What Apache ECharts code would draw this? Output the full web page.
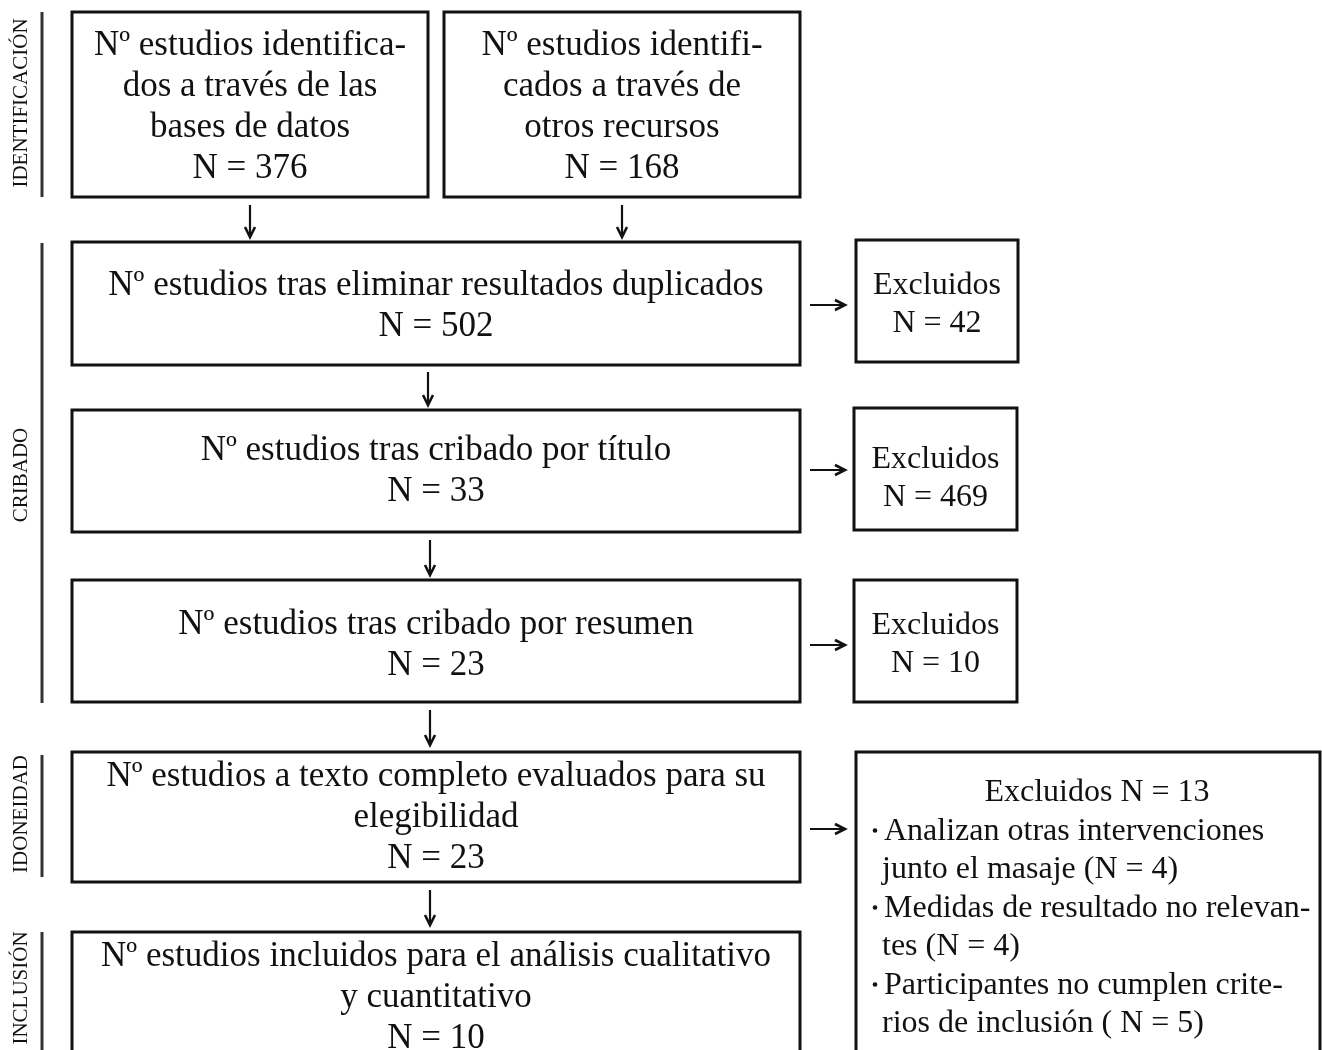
<!DOCTYPE html>
<html>
<head>
<meta charset="utf-8">
<script src="https://cdn.jsdelivr.net/npm/echarts@6/dist/echarts.min.js"></script>
<style>html,body{margin:0;padding:0;background:#fff}#c{width:1322px;height:1050px}</style>
</head>
<body>
<div id="c"></div>
<script>
// ---- content ----
const stageLabels = ['IDENTIFICACIÓN', 'CRIBADO', 'IDONEIDAD', 'INCLUSIÓN'];
const mainTexts = [
  ['Nº estudios identifica-', 'dos a través de las', 'bases de datos'],
  ['Nº estudios identifi-', 'cados a través de', 'otros recursos'],
  ['Nº estudios tras eliminar resultados duplicados'],
  ['Nº estudios tras cribado por título'],
  ['Nº estudios tras cribado por resumen'],
  ['Nº estudios a texto completo evaluados para su', 'elegibilidad'],
  ['Nº estudios incluidos para el análisis cualitativo', 'y cuantitativo']
];
const mainCounts = [376, 168, 502, 33, 23, 23, 10];
const excludedCounts = [42, 469, 10, 13];
const reasonTexts = [
  ['Analizan otras intervenciones', 'junto el masaje (N = 4)'],
  ['Medidas de resultado no relevan-', 'tes (N = 4)'],
  ['Participantes no cumplen crite-', 'rios de inclusión ( N = 5)']
];

// ---- layout (positions in canvas units) ----
const mainBoxes = [[72,12,428,197],[444,12,800,197],[72,242,800,365],[72,410,800,532],[72,580,800,702],[72,752,800,882],[72,932,800,1070]];
const exclBoxes = [[856,240,1018,362],[854,408,1017,530],[854,580,1017,702],[856,752,1320,1070]];
const stageSpans = [[12,197],[243,703],[755,877],[932,1070]];
const stageLabelY = [103,475,814,988];
const mainTextCenters = [107.5,107.5,306.5,471.5,645,818,997.5];
const exclTextCenters = [305,479,645];
const downArrows = [[250,205,237],[622,205,237],[428,372,405],[430,540,575],[430,710,745],[430,890,925]];
const rightArrows = [[810,845,305],[810,845,470],[810,845,645],[810,845,829]];

const FONT = "'Liberation Serif','Times New Roman',serif";
const INK = '#111';
const MAIN_SIZE = 35, EXCL_SIZE = 32, STAGE_SIZE = 21;

const chart = echarts.init(document.getElementById('c'), null, {renderer:'canvas'});

function boxRender(params, api) {
  const i = api.value(0);
  const kind = api.value(1);
  let b, lines, lh, size, c;
  if (kind === 0) {
    b = mainBoxes[i];
    lines = mainTexts[i].concat(['N = ' + mainCounts[i]]);
    lh = 41; size = MAIN_SIZE; c = mainTextCenters[i];
  } else {
    b = exclBoxes[i];
    lines = ['Excluidos', 'N = ' + excludedCounts[i]];
    lh = 38; size = EXCL_SIZE; c = exclTextCenters[i];
  }
  const p0 = api.coord([b[0], b[1]]);
  const p1 = api.coord([b[2], b[3]]);
  const children = [{
    type: 'rect',
    shape: {x: p0[0], y: p0[1], width: p1[0]-p0[0], height: p1[1]-p0[1]},
    style: {fill: '#fff', stroke: INK, lineWidth: 3}
  }];
  if (kind === 1 && i === 3) {
    const base = 793;
    children.push({type:'text', style:{text:'Excluidos N = ' + excludedCounts[3], x: api.coord([1097,0])[0], y: api.coord([0, base])[1], align:'center', verticalAlign:'middle', font: size + 'px ' + FONT, fill: INK}});
    let row = 1;
    reasonTexts.forEach(function (r) {
      r.forEach(function (t, k) {
        const y = api.coord([0, base + row * 38.5])[1];
        if (k === 0) {
          children.push({type:'circle', shape:{cx: api.coord([875,0])[0], cy: y - 1, r: 2.3}, style:{fill: INK}});
        }
        children.push({type:'text', style:{text: t, x: api.coord([k === 0 ? 884 : 882, 0])[0], y: y, align:'left', verticalAlign:'middle', font: size + 'px ' + FONT, fill: INK}});
        row++;
      });
    });
  } else {
    const cx = api.coord([(b[0] + b[2]) / 2, 0])[0];
    const cyp = api.coord([0, c])[1];
    children.push({type:'text', style:{text: lines.join('\n'), x: cx, y: cyp, align:'center', verticalAlign:'middle', lineHeight: lh, font: size + 'px ' + FONT, fill: INK}});
  }
  return {type:'group', children: children};
}

function arrowRender(params, api) {
  const dir = api.value(0);
  const i = api.value(1);
  const children = [];
  if (dir === 0) {
    const a = downArrows[i];
    const s = api.coord([a[0], a[1]]), e = api.coord([a[0], a[2]]);
    children.push({type:'line', shape:{x1:s[0], y1:s[1], x2:e[0], y2:e[1]-2}, style:{stroke: INK, lineWidth: 2.2}});
    children.push({type:'polyline', shape:{points:[[e[0]-5, e[1]-10],[e[0], e[1]],[e[0]+5, e[1]-10]]}, style:{stroke: INK, lineWidth: 2.6, fill: null, lineJoin: 'miter'}});
  } else {
    const a = rightArrows[i];
    const s = api.coord([a[0], a[2]]), e = api.coord([a[1], a[2]]);
    children.push({type:'line', shape:{x1:s[0], y1:s[1], x2:e[0]-2, y2:e[1]}, style:{stroke: INK, lineWidth: 2.2}});
    children.push({type:'polyline', shape:{points:[[e[0]-10, e[1]-5],[e[0], e[1]],[e[0]-10, e[1]+5]]}, style:{stroke: INK, lineWidth: 2.6, fill: null, lineJoin: 'miter'}});
  }
  return {type:'group', children: children};
}

function stageRender(params, api) {
  const i = api.value(0);
  const sp = stageSpans[i];
  const s = api.coord([42, sp[0]]), e = api.coord([42, sp[1]]);
  const lp = api.coord([21, stageLabelY[i]]);
  return {type:'group', children:[
    {type:'line', shape:{x1:s[0], y1:s[1], x2:e[0], y2:e[1]}, style:{stroke:'#333', lineWidth: 3}},
    {type:'text', x: lp[0], y: lp[1], rotation: Math.PI/2, style:{text: stageLabels[i], x:0, y:0, align:'center', verticalAlign:'middle', font: STAGE_SIZE + 'px ' + FONT, fill: INK}}
  ]};
}

const boxData = mainBoxes.map(function(_, i){ return [i, 0]; }).concat(exclBoxes.map(function(_, i){ return [i, 1]; }));
const arrowData = downArrows.map(function(_, i){ return [0, i]; }).concat(rightArrows.map(function(_, i){ return [1, i]; }));
const stageData = stageLabels.map(function(_, i){ return [i]; });

chart.setOption({
  animation: false,
  backgroundColor: '#fff',
  grid: {left: 0, right: 0, top: 0, bottom: 0},
  xAxis: {type: 'value', min: 0, max: 1322, show: false},
  yAxis: {type: 'value', min: 0, max: 1050, inverse: true, show: false},
  series: [
    {type: 'custom', renderItem: stageRender, data: stageData, clip: false, silent: true},
    {type: 'custom', renderItem: boxRender, data: boxData, clip: false, silent: true},
    {type: 'custom', renderItem: arrowRender, data: arrowData, clip: false, silent: true}
  ]
});
</script>
</body>
</html>
